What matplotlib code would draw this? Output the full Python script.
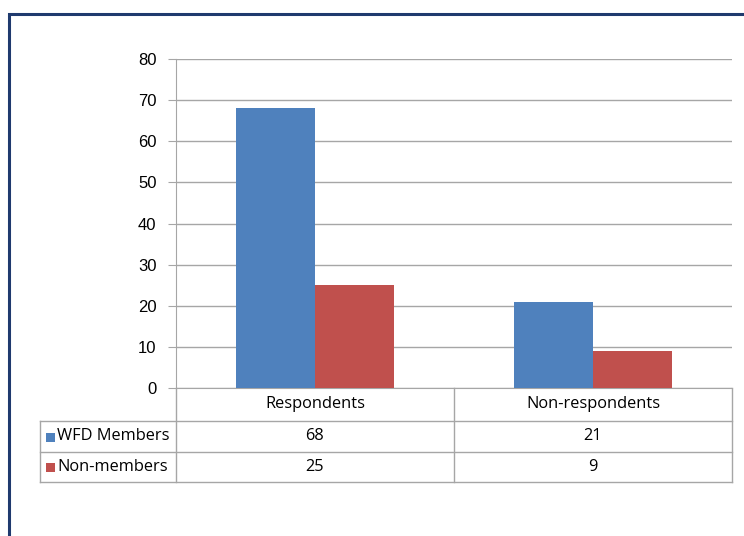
import matplotlib.pyplot as plt
import numpy as np
from matplotlib.patches import Rectangle
from matplotlib.lines import Line2D

# Survey responses, WFD members vs non-members
categories = ["Respondents", "Non-respondents"]
series_names = ["WFD Members", "Non-members"]
wfd_members = [68, 21]
non_members = [25, 9]
yticks = [0, 10, 20, 30, 40, 50, 60, 70, 80]

colors = ["#4F81BD", "#C0504D"]
grid_col = "#A6A6A6"
W, H = 744, 536

plt.rcParams['font.family'] = ['Open Sans', 'DejaVu Sans']

fig = plt.figure(figsize=(7.44, 5.36), dpi=100)


def fx(px):
    return px / W


def fy(py):
    return 1 - py / H


# outer navy frame (only left and top visible)
fig.add_artist(Rectangle((fx(9), -0.1), 1.2, fy(14) + 0.1, transform=fig.transFigure,
                         fill=False, edgecolor="#1F3A6E", linewidth=2.2))

ax = fig.add_axes([fx(176), fy(388), fx(732) - fx(176), fy(59) - fy(388)])
x = np.arange(len(categories))
bw = 0.285
ax.bar(x - bw / 2, wfd_members, bw, color=colors[0], zorder=3)
ax.bar(x + bw / 2, non_members, bw, color=colors[1], zorder=3)
ax.set_xlim(-0.5, len(categories) - 0.5)
ax.set_ylim(0, 80)
ax.set_yticks(yticks)
ax.yaxis.grid(True, color=grid_col, linewidth=1)
ax.set_xticks([])
for s in ["top", "right"]:
    ax.spines[s].set_visible(False)
ax.spines["left"].set_color(grid_col)
ax.spines["bottom"].set_color(grid_col)
ax.tick_params(axis="y", length=6, color=grid_col, labelsize=12, pad=8)
for t in ax.get_yticklabels():
    t.set_fontfamily("Liberation Sans")

# data table under the chart
left_px, lab_px, mid_px, right_px = 40, 176, 454, 732
rows_px = [388, 421, 452, 482]


def line(x0, x1, y0, y1):
    fig.add_artist(Line2D([fx(x0), fx(x1)], [fy(y0), fy(y1)], transform=fig.transFigure,
                          color=grid_col, linewidth=1))


for yy in rows_px[1:]:
    line(left_px, right_px, yy, yy)
for xx in [lab_px, mid_px, right_px]:
    line(xx, xx, rows_px[0], rows_px[-1])
line(left_px, left_px, rows_px[1], rows_px[-1])

col_centers = [(lab_px + mid_px) / 2, (mid_px + right_px) / 2]
hy = (rows_px[0] + rows_px[1]) / 2
for cx, name in zip(col_centers, categories):
    fig.text(fx(cx), fy(hy), name, ha="center", va="center", fontsize=11.8)

for i, (name, vals) in enumerate(zip(series_names, [wfd_members, non_members])):
    ry = (rows_px[i + 1] + rows_px[i + 2]) / 2
    fig.add_artist(Rectangle((fx(46), fy(ry + 5)), fx(9), 9 / H, transform=fig.transFigure,
                             facecolor=colors[i], edgecolor="none"))
    fig.text(fx(57), fy(ry), name, ha="left", va="center", fontsize=11.8)
    for cx, v in zip(col_centers, vals):
        fig.text(fx(cx), fy(ry), str(v), ha="center", va="center", fontsize=11.8)

fig.savefig("out.png", dpi=100)
